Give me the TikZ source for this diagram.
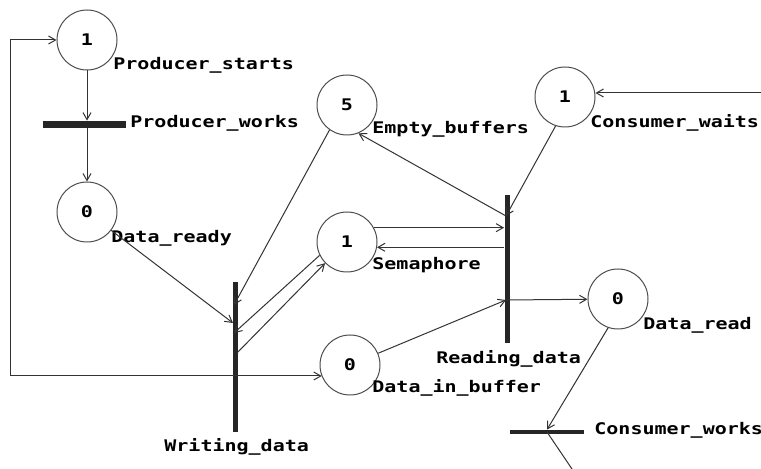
\documentclass[tikz,border=0pt]{standalone}
\usepackage{fontspec}
\newfontfamily\pix[FakeStretch=1.25]{DejaVu Sans Mono}
\usetikzlibrary{arrows.meta}
\begin{document}
\begin{tikzpicture}[x=0.5pt,y=-0.5pt,
 place/.style={circle,draw=black!70,line width=0.5pt,minimum size=30pt,inner sep=0pt,font=\pix\bfseries\fontsize{8}{9}\selectfont},
 trans/.style={fill=black!85,draw=none,inner sep=0pt},
 lab/.style={anchor=base west,inner sep=0pt,font=\pix\bfseries\fontsize{8}{9}\selectfont},
 flow/.style={draw=black!80,line width=0.5pt,-{Straight Barb[length=3.5pt,width=4pt]}}]
\useasboundingbox (0,0) rectangle (761,469);
% places
\node[place] (ps) at (87,40) {1};
\node[place] (dr) at (87,212) {0};
\node[place] (eb) at (347,105) {5};
\node[place] (cw) at (565,97) {1};
\node[place] (sem) at (347,242) {1};
\node[place] (dib) at (350,365) {0};
\node[place] (drd) at (618,299) {0};
% transitions
\node[trans,minimum width=41.5pt,minimum height=3.5pt] (pw) at (84.5,124.5) {};
\node[trans,minimum width=2.5pt,minimum height=75pt] (wd) at (235.5,357) {};
\node[trans,minimum width=2.5pt,minimum height=74pt] (rd) at (507,269) {};
\node[trans,minimum width=37pt,minimum height=2pt] (cws) at (547,432) {};
% labels
\node[lab] (lps) at (113,70) {Producer\_starts};
\node[lab] (lpw) at (130,128) {Producer\_works};
\node[lab] (ldr) at (111,243) {Data\_ready};
\node[lab] (leb) at (372,134) {Empty\_buffers};
\node[lab] (lcw) at (590,128) {Consumer\_waits};
\node[lab] (lsem) at (372,270) {Semaphore};
\node[lab] (ldib) at (372,393) {Data\_in\_buffer};
\node[lab] (ldrd) at (643,330) {Data\_read};
\node[lab] (lrd) at (436,364) {Reading\_data};
\node[lab] (lcws) at (594,435) {Consumer\_works};
\node[lab] (lwd) at (164,452) {Writing\_data};
% connector points
\coordinate (wdA) at (233,323);
\coordinate (wdE) at (234,305);
\coordinate (wdB) at (234,333);
\coordinate (wdC) at (237,353);
\coordinate (wdout) at (235,376);
\coordinate (loopc) at (10,376);
\coordinate (rdtop) at (506,216);
\coordinate (rdmid) at (506,300);
\coordinate (cwin) at (761,93);
\coordinate (cwsout) at (572,469);
% arcs
\draw[flow] (ps) -- (ps |- pw.north);
\draw[flow] (ps |- pw.south) -- (dr);
\draw[flow] (dr) -- (wdA);
\draw[flow] (eb.235) -- (wdE);
\draw[flow] (sem.206) -- (wdB);
\draw[flow] (wdC) -- (sem.224);
\draw[flow] (wdout) -- (loopc) |- (ps);
\draw[flow] (wdout) -- (wdout -| dib.202);
\draw[flow] (sem.28) -- (sem.28 -| rd.west);
\draw[flow] (sem.-10 -| rd.west) -- (sem.-10);
\draw[flow] (rdtop) -- (eb.-68);
\draw[flow] (cw.-108) -- (rdtop);
\draw[flow] (cwin) -- (cwin -| cw.east);
\draw[flow] (dib) -- (rdmid);
\draw[flow] (rdmid) -- (drd);
\draw[flow] (drd.251) -- (cws.north);
\draw[draw=black!80,line width=0.5pt] (cws.center) -- (cwsout);
\end{tikzpicture}
\end{document}
